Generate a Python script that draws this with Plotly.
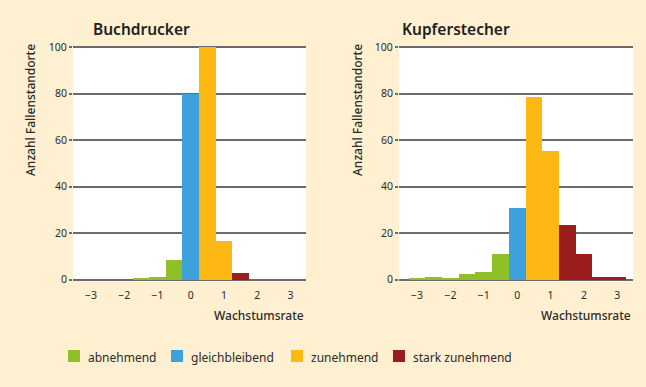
import plotly.graph_objects as go
from plotly.subplots import make_subplots

# ---------------- data ----------------
categories = ["abnehmend", "gleichbleibend", "zunehmend", "stark zunehmend"]
colors = ["#8FC028", "#3DA1DC", "#FDB813", "#9B1C1D"]

panel_titles = ["Buchdrucker", "Kupferstecher"]
y_title = "Anzahl Fallenstandorte"
x_title = "Wachstumsrate"

# growth-rate bin centres (bin width 0.5) and counts per category
buch_x = {
    "abnehmend": [-1.5, -1.0, -0.5],
    "gleichbleibend": [0.0],
    "zunehmend": [0.5, 1.0],
    "stark zunehmend": [1.5],
}
buch_y = {
    "abnehmend": [0.6, 1.2, 8.3],
    "gleichbleibend": [80],
    "zunehmend": [100, 16.5],
    "stark zunehmend": [3],
}
kupf_x = {
    "abnehmend": [-3.0, -2.5, -2.0, -1.5, -1.0, -0.5],
    "gleichbleibend": [0.0],
    "zunehmend": [0.5, 1.0],
    "stark zunehmend": [1.5, 2.0, 2.5, 3.0],
}
kupf_y = {
    "abnehmend": [0.6, 1.1, 0.6, 2.4, 3.2, 11.2],
    "gleichbleibend": [30.6],
    "zunehmend": [78.4, 55.2],
    "stark zunehmend": [23.5, 11.0, 1.1, 1.1],
}
bin_width = 0.5

x_tickvals = [-3, -2, -1, 0, 1, 2, 3]
x_ticktext = ["\u22123", "\u22122", "\u22121", "0", "1", "2", "3"]
y_tickvals = [0, 20, 40, 60, 80, 100]

# ---------------- figure ----------------
W, H = 646, 387
BG = "#FEF0D1"
GRID = "#6B6B6B"
TXT = "#2B2B2B"
FONT = "Noto Sans"

fig = make_subplots(rows=1, cols=2)

for col, (xs, ys) in enumerate([(buch_x, buch_y), (kupf_x, kupf_y)], start=1):
    for cat, colr in zip(categories, colors):
        fig.add_trace(
            go.Bar(
                x=xs[cat], y=ys[cat], width=bin_width, name=cat,
                marker=dict(color=colr, line=dict(width=0)),
                showlegend=False, hoverinfo="skip",
            ),
            row=1, col=col,
        )

pad_units = 0.45
px_per_unit = 232.5 / 100
pad_px = pad_units * px_per_unit
dom_left = [73 / W, 306 / W]
dom_right = [399 / W, 633 / W]
y_dom = [1 - (279.5 + pad_px) / H, 1 - (47 - pad_px) / H]

xaxis_common = dict(
    range=[-3.54, 3.47], tickvals=x_tickvals, ticktext=x_ticktext,
    showgrid=False, zeroline=False, showline=False, ticks="",
    tickfont=dict(family=FONT, size=10.5, color=TXT), ticklabelstandoff=7,
    fixedrange=True, automargin=False,
)
yaxis_common = dict(
    range=[-pad_units, 100 + pad_units], tickvals=y_tickvals, showgrid=True,
    gridcolor=GRID, gridwidth=1.5, zeroline=False, showline=False,
    ticks="outside", ticklen=3, tickwidth=1.5, tickcolor=GRID,
    tickfont=dict(family=FONT, size=10.5, color=TXT), fixedrange=True,
    automargin=False,
)

fig.update_layout(
    xaxis=dict(domain=dom_left, **xaxis_common),
    xaxis2=dict(domain=dom_right, **xaxis_common),
    yaxis=dict(domain=y_dom, **yaxis_common),
    yaxis2=dict(domain=y_dom, **yaxis_common),
    width=W, height=H, autosize=False,
    margin=dict(l=0, r=0, t=0, b=0, pad=0, autoexpand=False),
    paper_bgcolor=BG, plot_bgcolor="white",
    bargap=0, barmode="overlay",
    showlegend=False,
    font=dict(family=FONT, color=TXT),
)

# panel titles, axis titles
title_x = [91, 400]
ytitle_x = [30, 357]
xtitle_right = [306, 633]
for i in range(2):
    fig.add_annotation(
        text=panel_titles[i], xref="paper", yref="paper",
        x=title_x[i] / W, y=1 - 29 / H, xanchor="left", yanchor="middle",
        showarrow=False, font=dict(family=FONT, size=15.5, color="#1E1E1E", weight=600),
    )
    fig.add_annotation(
        text=y_title, xref="paper", yref="paper", textangle=-90,
        x=ytitle_x[i] / W, y=1 - 110 / H, xanchor="center", yanchor="middle",
        showarrow=False, font=dict(family=FONT, size=12, color=TXT, weight=500),
    )
    fig.add_annotation(
        text=x_title, xref="paper", yref="paper",
        x=xtitle_right[i] / W, y=1 - 315 / H, xanchor="right", yanchor="middle",
        showarrow=False, font=dict(family=FONT, size=12, color=TXT, weight=500),
    )

# legend (manual)
leg_sq_x = [68, 171, 291, 393]
leg_y = 356
for cat, colr, sx in zip(categories, colors, leg_sq_x):
    fig.add_shape(
        type="rect", xref="paper", yref="paper",
        x0=sx / W, x1=(sx + 12) / W, y0=1 - (leg_y + 6) / H, y1=1 - (leg_y - 6) / H,
        fillcolor=colr, line=dict(width=0),
    )
    fig.add_annotation(
        text=cat, xref="paper", yref="paper",
        x=(sx + 18) / W, y=1 - (leg_y + 1) / H, xanchor="left", yanchor="middle",
        showarrow=False, font=dict(family=FONT, size=12, color=TXT),
    )

fig.write_html(
    "out.html",
    config={"displayModeBar": False, "responsive": False},
    post_script="document.body.style.margin='0';document.body.style.overflow='hidden';",
)
